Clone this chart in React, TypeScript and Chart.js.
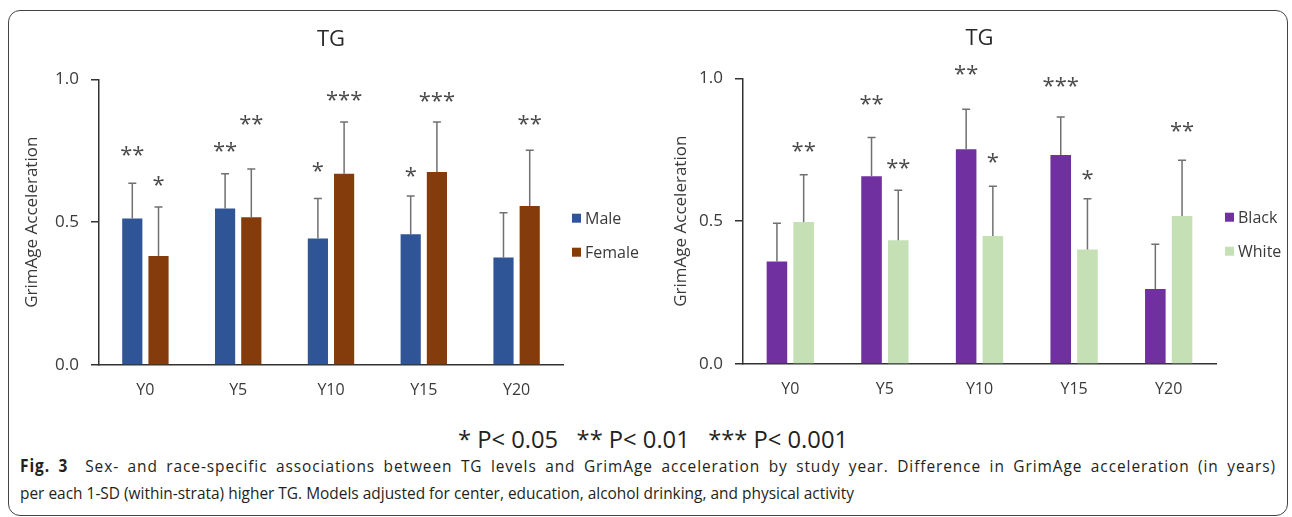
import React, { useEffect, useRef } from 'react';
import { Chart, registerables } from 'chart.js';

Chart.register(...registerables);

// ---------- data ----------
const categories = ['Y0', 'Y5', 'Y10', 'Y15', 'Y20'];
const panelTitle = 'TG';
const yAxisTitle = 'GrimAge Acceleration';

const maleValues = [0.513, 0.548, 0.443, 0.458, 0.376];
const maleUpper = [0.636, 0.67, 0.583, 0.592, 0.533];
const maleStars = ['**', '**', '*', '*', ''];
const maleStarLevels = [0.749, 0.763, 0.693, 0.676, null];

const femaleValues = [0.382, 0.517, 0.67, 0.676, 0.557];
const femaleUpper = [0.553, 0.686, 0.851, 0.851, 0.752];
const femaleStars = ['*', '**', '***', '***', '**'];
const femaleStarLevels = [0.644, 0.857, 0.942, 0.938, 0.857];

const blackValues = [0.359, 0.657, 0.752, 0.732, 0.263];
const blackUpper = [0.493, 0.793, 0.892, 0.865, 0.419];
const blackStars = ['', '**', '**', '***', ''];
const blackStarLevels = [null, 0.924, 1.029, 0.988, null];

const whiteValues = [0.497, 0.433, 0.448, 0.401, 0.518];
const whiteUpper = [0.663, 0.608, 0.622, 0.579, 0.713];
const whiteStars = ['**', '**', '*', '*', '**'];
const whiteStarLevels = [0.76, 0.702, 0.72, 0.661, 0.83];

const significanceNote = '* P< 0.05   ** P< 0.01   *** P< 0.001';
const captionLabel = 'Fig. 3';
const captionLine1 =
  'Sex- and race-specific associations between TG levels and GrimAge acceleration by study year. Difference in GrimAge acceleration (in years)';
const captionLine2 =
  'per each 1-SD (within-strata) higher TG. Models adjusted for center, education, alcohol drinking, and physical activity';

// ---------- styles ----------
const FONT = "'Open Sans', 'Noto Sans', sans-serif";
const TEXT = '#3a3a3a';

const annotPlugin = {
  id: 'annot',
  afterDatasetsDraw(chart: any) {
    const { ctx, scales } = chart;
    const y = scales.y;
    chart.data.datasets.forEach((ds: any, di: number) => {
      const meta = chart.getDatasetMeta(di);
      meta.data.forEach((bar: any, i: number) => {
        const up = ds.errorUpper ? ds.errorUpper[i] : null;
        if (up != null) {
          const yTop = y.getPixelForValue(up);
          ctx.save();
          ctx.strokeStyle = '#707070';
          ctx.lineWidth = 1.5;
          ctx.beginPath();
          ctx.moveTo(bar.x, bar.y);
          ctx.lineTo(bar.x, yTop);
          ctx.moveTo(bar.x - 4, yTop);
          ctx.lineTo(bar.x + 4, yTop);
          ctx.stroke();
          ctx.restore();
        }
        const s = ds.stars ? ds.stars[i] : '';
        const lvl = ds.starLevels ? ds.starLevels[i] : null;
        if (s && lvl != null) {
          ctx.save();
          ctx.font = `22px ${FONT}`;
          ctx.fillStyle = '#4a4a4a';
          ctx.textAlign = 'center';
          ctx.textBaseline = 'alphabetic';
          const m = ctx.measureText(s);
          const cy = y.getPixelForValue(lvl);
          ctx.fillText(s, bar.x, cy + (m.actualBoundingBoxAscent - m.actualBoundingBoxDescent) / 2);
          ctx.restore();
        }
      });
    });
  },
  afterDraw(chart: any) {
    const { ctx, chartArea } = chart;
    const mid = (chartArea.top + chartArea.bottom) / 2;
    const x0 = chartArea.right + 9;
    chart.data.datasets.forEach((ds: any, di: number) => {
      const cy = mid - 4 + di * 34;
      ctx.save();
      ctx.fillStyle = ds.backgroundColor;
      ctx.fillRect(x0, cy - 4.5, 9, 9);
      ctx.fillStyle = TEXT;
      ctx.font = `16px ${FONT}`;
      ctx.textAlign = 'left';
      ctx.textBaseline = 'middle';
      ctx.fillText(ds.label, x0 + 13, cy + 1);
      ctx.restore();
    });
  },
};

type Series = {
  label: string;
  color: string;
  values: number[];
  upper: number[];
  stars: string[];
  levels: (number | null)[];
};

function BarPanel(props: {
  left: number;
  top: number;
  width: number;
  height: number;
  yWidth: number;
  yTitlePad: number;
  padRight: number;
  series: Series[];
}) {
  const ref = useRef<HTMLCanvasElement>(null);
  useEffect(() => {
    if (!ref.current) return;
    const chart = new Chart(ref.current, {
      type: 'bar',
      data: {
        labels: categories,
        datasets: props.series.map((s) => ({
          label: s.label,
          data: s.values,
          backgroundColor: s.color,
          borderWidth: 0,
          categoryPercentage: 0.565,
          barPercentage: 0.77,
          errorUpper: s.upper,
          stars: s.stars,
          starLevels: s.levels,
        })) as any,
      },
      options: {
        animation: false,
        responsive: false,
        layout: { padding: { left: 0, right: props.padRight, top: 0, bottom: 10 } },
        plugins: {
          legend: { display: false },
          tooltip: { enabled: false },
          title: {
            display: true,
            text: panelTitle,
            fullSize: false,
            color: '#2a2a2a',
            font: { family: FONT, size: 22, weight: 'normal' },
            padding: { top: 17, bottom: 26 },
          },
        },
        scales: {
          x: {
            grid: { display: false, drawTicks: false },
            border: { display: true, color: '#333', width: 1.5 },
            ticks: { color: TEXT, font: { family: FONT, size: 16 }, padding: 16 },
            afterFit: (s: any) => {
              s.height = 45;
            },
          },
          y: {
            min: 0,
            max: 1,
            ticks: {
              stepSize: 0.5,
              color: TEXT,
              font: { family: FONT, size: 17 },
              padding: 12,
              callback: (v: any) => Number(v).toFixed(1),
            },
            grid: {
              display: true,
              drawOnChartArea: false,
              drawTicks: true,
              tickLength: 8,
              color: '#333',
              lineWidth: 1.5,
            },
            border: { display: true, color: '#333', width: 1.5 },
            title: {
              display: true,
              text: yAxisTitle,
              color: TEXT,
              font: { family: FONT, size: 17 },
              padding: { top: props.yTitlePad, bottom: 0 },
            },
            afterFit: (s: any) => {
              s.width = props.yWidth;
            },
          },
        },
      } as any,
      plugins: [annotPlugin],
    });
    return () => chart.destroy();
  }, []);
  return (
    <div style={{ position: 'absolute', left: props.left, top: props.top, width: props.width, height: props.height }}>
      <canvas ref={ref} width={props.width} height={props.height} style={{ width: props.width, height: props.height, display: 'block' }} />
    </div>
  );
}

function FitText(props: { width: number; style: React.CSSProperties; children: React.ReactNode }) {
  const ref = useRef<HTMLDivElement>(null);
  useEffect(() => {
    const el = ref.current;
    if (!el) return;
    const fit = () => {
      el.style.transform = 'none';
      const w = el.getBoundingClientRect().width;
      if (w > 0) el.style.transform = `scaleX(${props.width / w})`;
    };
    fit();
    if ((document as any).fonts && (document as any).fonts.ready) {
      (document as any).fonts.ready.then(fit);
    }
  }, []);
  return (
    <div ref={ref} style={{ ...props.style, whiteSpace: 'pre', transformOrigin: 'left center', display: 'inline-block' }}>
      {props.children}
    </div>
  );
}

// Justified two-line caption: the last line sets the horizontal scale, the first line is
// stretched (letter + word spacing) to the full column width.
function Caption(props: { left: number; top: number; fullWidth: number; lastWidth: number }) {
  const l1 = useRef<HTMLDivElement>(null);
  const l2 = useRef<HTMLDivElement>(null);
  useEffect(() => {
    const fit = () => {
      const a = l1.current;
      const b = l2.current;
      if (!a || !b) return;
      a.style.transform = 'none';
      b.style.transform = 'none';
      a.style.letterSpacing = '0px';
      a.style.wordSpacing = '0px';
      const w2 = b.getBoundingClientRect().width;
      const w1 = a.getBoundingClientRect().width;
      if (w1 <= 0 || w2 <= 0) return;
      const s = props.lastWidth / w2;
      const extra = props.fullWidth / s - w1; // unscaled px
      const text = captionLabel + '  ' + captionLine1;
      const nChars = text.length;
      const nSpaces = (text.match(/ /g) || []).length;
      a.style.letterSpacing = `${(extra * 0.65) / nChars}px`;
      a.style.wordSpacing = `${(extra * 0.35) / nSpaces}px`;
      a.style.transform = `scaleX(${s})`;
      b.style.transform = `scaleX(${s})`;
    };
    fit();
    if ((document as any).fonts && (document as any).fonts.ready) {
      (document as any).fonts.ready.then(fit);
    }
  }, []);
  const st: React.CSSProperties = {
    fontFamily: FONT,
    fontSize: 17,
    color: '#231F20',
    lineHeight: '22px',
    whiteSpace: 'pre',
    display: 'inline-block',
    transformOrigin: 'left center',
  };
  return (
    <div style={{ position: 'absolute', left: props.left, top: props.top }}>
      <div>
        <div ref={l1} style={st}>
          <b>{captionLabel}</b>
          {'  ' + captionLine1}
        </div>
      </div>
      <div style={{ marginTop: 5 }}>
        <div ref={l2} style={st}>
          {captionLine2}
        </div>
      </div>
    </div>
  );
}

export default function App() {
  const sexSeries: Series[] = [
    { label: 'Male', color: '#2F5597', values: maleValues, upper: maleUpper, stars: maleStars, levels: maleStarLevels },
    { label: 'Female', color: '#843C0C', values: femaleValues, upper: femaleUpper, stars: femaleStars, levels: femaleStarLevels },
  ];
  const raceSeries: Series[] = [
    { label: 'Black', color: '#7030A0', values: blackValues, upper: blackUpper, stars: blackStars, levels: blackStarLevels },
    { label: 'White', color: '#C5E0B4', values: whiteValues, upper: whiteUpper, stars: whiteStars, levels: whiteStarLevels },
  ];
  return (
    <div style={{ position: 'absolute', left: 0, top: 0, width: 1292, height: 517, background: '#fff', overflow: 'hidden' }}>
      <div
        style={{
          position: 'absolute',
          left: 8,
          top: 10,
          width: 1278,
          height: 504,
          border: '1px solid #444',
          borderRadius: 12,
        }}
      />
      <BarPanel left={10} top={10} width={640} height={410} yWidth={89} yTitlePad={12} padRight={87} series={sexSeries} />
      <BarPanel left={650} top={9} width={640} height={410} yWidth={93} yTitlePad={21} padRight={74} series={raceSeries} />
      <div style={{ position: 'absolute', left: 458, top: 424 }}>
        <FitText width={390} style={{ fontFamily: FONT, fontSize: 24, color: '#222', lineHeight: '30px' }}>
          {significanceNote}
        </FitText>
      </div>
      <Caption left={20} top={455} fullWidth={1256} lastWidth={834} />
    </div>
  );
}
